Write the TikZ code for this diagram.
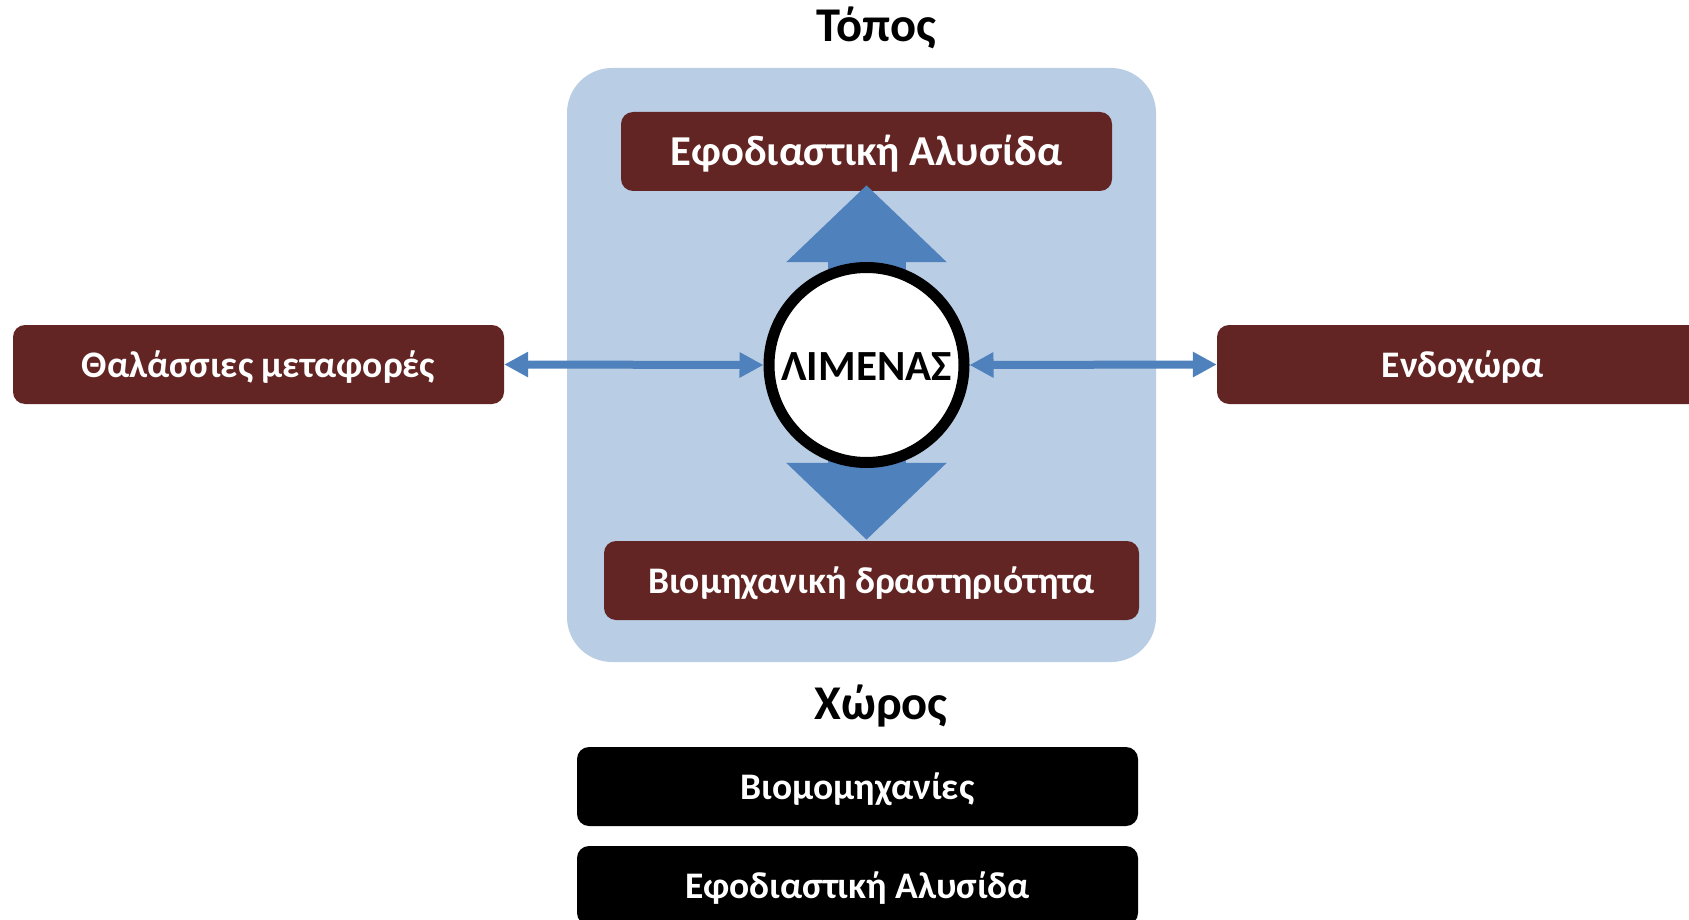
\documentclass[tikz,border=0pt]{standalone}
\usepackage{fontspec}
\setmainfont{Carlito}
\usetikzlibrary{arrows.meta}
\definecolor{maroon}{HTML}{632523}
\definecolor{bgblue}{HTML}{B9CDE5}
\definecolor{arrblue}{HTML}{4F81BD}
\pgfdeclarelayer{bg}\pgfdeclarelayer{fg}\pgfsetlayers{bg,main,fg}
\begin{document}
\begin{tikzpicture}[x=1pt,y=-1pt,
 box/.style={rounded corners=12pt, text=white, font=\bfseries\fontsize{37.5}{45}\selectfont,
   minimum height=79pt, text height=29pt, text depth=3pt, inner sep=0pt},
 redbox/.style={box, fill=maroon},
 bigredbox/.style={redbox, font=\bfseries\fontsize{42.6}{51}\selectfont, text height=32pt, text depth=3pt},
 blackbox/.style={box, fill=black},
 titletext/.style={font=\bfseries\fontsize{48.5}{58}\selectfont, anchor=base, inner sep=0pt},
 harrow/.style={draw=arrblue, line width=8pt, {Triangle[length=24pt,width=24pt]}-{Triangle[length=24pt,width=24pt]}},
 bigarrow/.style={draw=arrblue, line width=78pt, -{Triangle[length=77pt,width=156pt]}},
 portnode/.style={circle, draw=black, line width=11pt, fill=white, minimum size=195pt, inner sep=0pt,
   font=\bfseries\fontsize{43}{52}\selectfont, text height=33pt, text depth=3pt},
]
\useasboundingbox (0,0) rectangle (1689,920);
\clip (0,0) rectangle (1689,920);
\begin{pgfonlayer}{bg}
\node[fill=bgblue, rounded corners=45pt, minimum width=589pt, minimum height=594pt, inner sep=0pt] (area) at (861.5,365) {};
\end{pgfonlayer}
\begin{pgfonlayer}{fg}
\node[portnode] (port) at (866.5,365) {ΛΙΜΕΝΑΣ};
\end{pgfonlayer}
\node[titletext] (topos) at (876,42) {Τόπος};
\node[titletext] (choros) at (881,719) {Χώρος};
\node[bigredbox, minimum width=491pt] (supply) at (866.5,151.5) {Εφοδιαστική Αλυσίδα};
\node[redbox, minimum width=491pt] (sea) at (258.5,364.5) {Θαλάσσιες μεταφορές};
\node[redbox, minimum width=491pt] (inland) at (1462.5,364.5) {Ενδοχώρα};
\node[redbox, minimum width=535pt] (industry) at (871.5,580.5) {Βιομηχανική δραστηριότητα};
\node[blackbox, minimum width=561pt] (ind2) at (857.5,786.5) {Βιομομηχανίες};
\node[blackbox, minimum width=561pt] (supply2) at (857.5,885.5) {Εφοδιαστική Αλυσίδα};
\draw[bigarrow, shorten >=-6pt] (port.center) -- (port.center |- supply.south);
\draw[bigarrow, shorten >=1pt] (port.center) -- (port.center |- industry.north);
\draw[harrow] (sea.east) -- (port.west);
\draw[harrow] (port.east) -- (inland.west);
\end{tikzpicture}
\end{document}
